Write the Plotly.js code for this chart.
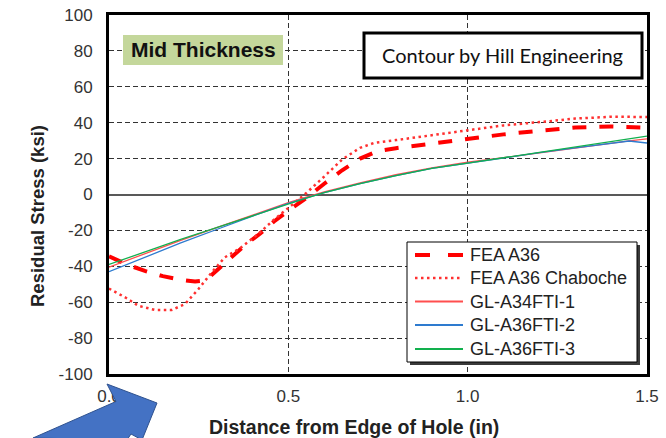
<!DOCTYPE html>
<html>
<head>
<meta charset="utf-8">
<script src="https://cdn.plot.ly/plotly-3.0.1.min.js"></script>
<style>html,body{margin:0;padding:0;background:#fff;}#chart{width:666px;height:438px;}</style>
</head>
<body>
<div id="chart"></div>
<script>
// ---- data ----
const feaX = [0, 0.05, 0.1, 0.15, 0.2, 0.24, 0.27, 0.3, 0.34, 0.38, 0.42, 0.46, 0.5, 0.55, 0.6, 0.65, 0.7, 0.75, 0.8, 0.9, 1.0, 1.1, 1.2, 1.3, 1.4, 1.5];
const feaY = [-34.5, -39, -42.6, -45.5, -47.5, -48.5, -47.8, -42.5, -35, -28, -22, -15, -9, -2, 6, 13.5, 20, 24.2, 25.8, 28.5, 31, 33.5, 35.5, 37.3, 37.9, 37.2];

const chabX = [0, 0.046, 0.082, 0.128, 0.175, 0.212, 0.249, 0.286, 0.323, 0.365, 0.416, 0.46, 0.5, 0.55, 0.6, 0.65, 0.7, 0.74, 0.8, 0.9, 1.0, 1.1, 1.22, 1.3, 1.4, 1.5];
const chabY = [-52.4, -57.4, -62, -64.3, -64.3, -61, -52.8, -43.5, -35, -30, -22, -14, -7.5, 0.8, 10, 19.5, 26, 28.8, 30.3, 33, 35.7, 38.5, 40.7, 42.3, 43.3, 43.2];

const glX = [0, 0.1, 0.2, 0.3, 0.4, 0.5, 0.55, 0.6, 0.7, 0.8, 0.9, 1.0, 1.1, 1.2, 1.3, 1.4, 1.45, 1.5];
const gl1Y = [-40.5, -33, -25.5, -18.5, -11.5, -4.5, -1.5, 1.5, 6.5, 11, 14.8, 18, 20.5, 23.3, 26, 28.7, 29.9, 31];
const gl2Y = [-43, -35, -27, -19.5, -12, -5, -2, 1, 6, 10.5, 14.5, 17.5, 20.5, 23.3, 26, 28.5, 29.8, 28.7];
const gl3Y = [-39, -32, -25, -18.5, -11.8, -5, -2, 1, 6, 10.5, 14.5, 17.5, 20.5, 23.3, 26.2, 29.2, 30.8, 32.5];

const seriesNames = ['FEA A36', 'FEA A36 Chaboche', 'GL-A34FTI-1', 'GL-A36FTI-2', 'GL-A36FTI-3'];
const xTickVals = [0, 0.5, 1.0, 1.5];
const xTickText = ['0.0', '0.5', '1.0', '1.5'];
const yTickVals = [-100, -80, -60, -40, -20, 0, 20, 40, 60, 80, 100];
const yTickText = ['-100', '-80', '-60', '-40', '-20', '0', '20', '40', '60', '80', '100'];

// ---- pixel helpers for paper coordinates ----
const W = 666, H = 438, L = 109, R = 647, T = 15, B = 374;
const px = v => (v - L) / (R - L);
const py = v => (B - v) / (B - T);

const lineStyles = [
  {color: '#FF0000', width: 4, dash: '14px,13px'},
  {color: '#FF3030', width: 2.5, dash: '2.5px,3.5px'},
  {color: '#FF4F4F', width: 1.3},
  {color: '#2E7BCF', width: 1.3},
  {color: '#12B04E', width: 1.3}
];
const seriesX = [feaX, chabX, glX, glX, glX];
const seriesY = [feaY, chabY, gl1Y, gl2Y, gl3Y];

const traces = seriesNames.map((n, i) => ({
  x: seriesX[i], y: seriesY[i], name: n, mode: 'lines', line: lineStyles[i], showlegend: false
}));

function pathFrom(pts) {
  return 'M ' + pts.map(p => px(p[0]).toFixed(5) + ',' + py(p[1]).toFixed(5)).join(' L ') + ' Z';
}

const arrowPts = [[33, 438], [116, 401.5], [107, 384], [157, 403], [142, 440], [131, 434], [127, 440]];

// legend box (Excel-style, tight rows)
const legBox = {x0: 407, x1: 637, y0: 242, y1: 362};
const legRowY = [255, 278, 301.5, 325, 349];
const legSampleX = [415, 463];
const legTextX = 468;

const shapes = [
  {type: 'rect', xref: 'paper', yref: 'paper', x0: px(123), x1: px(283), y0: py(35), y1: py(65), fillcolor: '#C4D79B', line: {width: 0}, layer: 'above'},
  {type: 'rect', xref: 'paper', yref: 'paper', x0: px(364), x1: px(642), y0: py(33), y1: py(78), fillcolor: '#fff', line: {color: '#000', width: 3}, layer: 'above'},
  {type: 'rect', xref: 'paper', yref: 'paper', x0: px(legBox.x0 + 3), x1: px(legBox.x1 + 3), y0: py(legBox.y0 + 3), y1: py(legBox.y1 + 3), fillcolor: '#3a3a3a', line: {width: 0}, layer: 'above'},
  {type: 'rect', xref: 'paper', yref: 'paper', x0: px(legBox.x0), x1: px(legBox.x1), y0: py(legBox.y0), y1: py(legBox.y1), fillcolor: '#fff', line: {color: '#000', width: 1}, layer: 'above'},
  {type: 'path', xref: 'paper', yref: 'paper', path: pathFrom(arrowPts), fillcolor: '#4472C4', line: {color: '#2F528F', width: 1}, layer: 'above'}
];
const annotations = [
  {xref: 'paper', yref: 'paper', x: px(203), y: py(50), text: '<b>Mid Thickness</b>', showarrow: false, font: {size: 21, color: '#111'}, xanchor: 'center', yanchor: 'middle'},
  {xref: 'paper', yref: 'paper', x: px(502), y: py(55.5), text: 'Contour by Hill Engineering', showarrow: false, font: {family: 'Lato, Carlito, sans-serif', size: 20, color: '#111'}, xanchor: 'center', yanchor: 'middle'},
  {xref: 'paper', yref: 'paper', x: px(354), y: py(427), text: '<b>Distance from Edge of Hole (in)</b>', showarrow: false, font: {size: 19.5, color: '#222'}, xanchor: 'center', yanchor: 'middle'},
  {xref: 'paper', yref: 'paper', x: px(37), y: py(216), text: '<b>Residual Stress (ksi)</b>', showarrow: false, textangle: -90, font: {size: 18.5, color: '#222'}, xanchor: 'center', yanchor: 'middle'}
];
seriesNames.forEach((n, i) => {
  const s = lineStyles[i];
  shapes.push({type: 'line', xref: 'paper', yref: 'paper', x0: px(legSampleX[0]), x1: px(legSampleX[1]), y0: py(legRowY[i]), y1: py(legRowY[i]),
    line: {color: s.color, width: i === 0 ? 4 : (i === 1 ? 2.5 : 1.8), dash: i === 0 ? '15px,18px' : (s.dash || 'solid')}, layer: 'above'});
  annotations.push({xref: 'paper', yref: 'paper', x: px(legTextX), y: py(legRowY[i]), text: n, showarrow: false,
    font: {size: 18, color: '#222'}, xanchor: 'left', yanchor: 'middle'});
});

const layout = {
  width: W, height: H,
  margin: {l: L, r: W - R, t: T, b: H - B, pad: 0},
  paper_bgcolor: '#fff', plot_bgcolor: '#fff',
  showlegend: false,
  font: {family: 'Liberation Sans, Arial, sans-serif', color: '#333'},
  xaxis: {
    range: [0, 1.5], tickvals: xTickVals, ticktext: xTickText,
    showgrid: true, gridcolor: '#333', griddash: '5px,3px', gridwidth: 1,
    zeroline: false, showline: true, mirror: true, linecolor: '#000', linewidth: 3,
    ticks: '', ticklabelstandoff: 5, tickfont: {size: 17, color: '#333'}, fixedrange: true
  },
  yaxis: {
    range: [-100, 100], tickvals: yTickVals, ticktext: yTickText,
    showgrid: true, gridcolor: '#333', griddash: '5px,3px', gridwidth: 1,
    zeroline: true, zerolinecolor: '#595959', zerolinewidth: 2,
    showline: true, mirror: true, linecolor: '#000', linewidth: 3,
    ticks: '', ticklabelstandoff: 10, tickfont: {size: 17, color: '#333'}, fixedrange: true
  },
  shapes: shapes,
  annotations: annotations
};

Plotly.newPlot('chart', traces, layout, {staticPlot: true, displayModeBar: false});
</script>
</body>
</html>
